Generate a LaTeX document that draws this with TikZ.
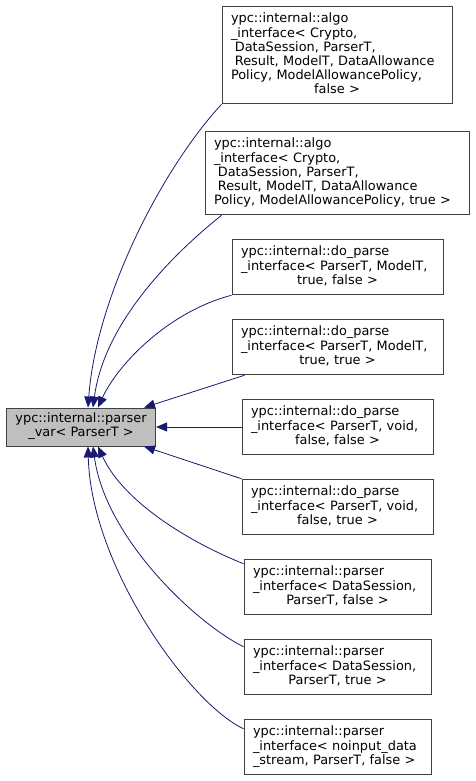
\documentclass[tikz,border=0pt]{standalone}
\usepackage{fontspec}
\setmainfont{DejaVu Sans}
\usetikzlibrary{arrows.meta}
\definecolor{midnight}{RGB}{25,25,112}
\newcommand{\nohyph}{\hyphenpenalty=10000\relax}
\tikzstyle{cls}=[draw=black!75, fill=white, line width=0.9pt, align=left,
	inner xsep=9pt, inner ysep=6.3pt, font=\fontsize{12.9}{14}\selectfont,
	execute at begin node=\nohyph\strut, execute at end node=\strut]
\tikzstyle{base}=[cls, fill=black!25, align=center, inner ysep=5pt]
\tikzstyle{line}=[draw, color=midnight, line width=0.8pt,
	-{Triangle[length=11pt,width=9pt]}]
\newcommand{\clsNode}[3]{node (c#1) [cls, text width=#2]
	{#3}}
\newcommand{\lastline}[1]{\hspace*{\fill}#1\hspace*{\fill}}
\begin{document}
\begin{tikzpicture}[x=1pt,y=-1pt]
	\useasboundingbox (0,0) rectangle (475,781);

	\path (81,427) node (base) [base] {ypc::internal::parser\\\_var< ParserT >};
	\path (base)+(256.5,0) \clsNode{5}{173pt}{ypc::internal::do\_parse\\\_interface< ParserT, void,\\\lastline{false, false >}};
	\path (c5)+(0,-80) \clsNode{4}{193pt}{ypc::internal::do\_parse\\\_interface< ParserT, ModelT,\\\lastline{true, true >}};
	\path (c4)+(0,-80) \clsNode{3}{193pt}{ypc::internal::do\_parse\\\_interface< ParserT, ModelT,\\\lastline{true, false >}};
	\path (c3)+(-0.5,-94) \clsNode{2}{246pt}{ypc::internal::algo\\\_interface< Crypto,\\\hspace*{0.3em}DataSession, ParserT,\\\hspace*{0.3em}Result, ModelT, DataAllowance\\Policy, ModelAllowancePolicy, true >};
	\path (c2)+(0,-118) \clsNode{1}{212pt}{ypc::internal::algo\\\_interface< Crypto,\\\hspace*{0.3em}DataSession, ParserT,\\\hspace*{0.3em}Result, ModelT, DataAllowance\\Policy, ModelAllowancePolicy,\\\lastline{false >}};
	\path (c5)+(0,80) \clsNode{6}{173pt}{ypc::internal::do\_parse\\\_interface< ParserT, void,\\\lastline{false, true >}};
	\path (c6)+(0,80) \clsNode{7}{169pt}{ypc::internal::parser\\\_interface< DataSession,\\\lastline{ParserT, false >}};
	\path (c7)+(0,80) \clsNode{8}{169pt}{ypc::internal::parser\\\_interface< DataSession,\\\lastline{ParserT, true >}};
	\path (c8)+(0,80) \clsNode{9}{169pt}{ypc::internal::parser\\\_interface< noinput\_data\\\_stream, ParserT, false >};

	% Inheritance arrows
	\path [line] (c1.south west) .. controls +(-60,65) and +(8,-110) .. ([xshift=7pt]base.north);
	\path [line] ([xshift=17pt]c2.south west) .. controls +(-40,32) and +(12,-90) .. ([xshift=12pt]base.north);
	\path [line] (c3.south west) .. controls +(-62,16) and +(20,-44) .. ([xshift=17pt]base.north);
	\path [line] ([xshift=13pt]c4.south west) -- ([xshift=-12pt]base.north east);
	\path [line] (c5.west) -- (base.east);
	\path [line] (c6.north west) -- ([xshift=-12pt]base.south east);
	\path [line] ([yshift=-5pt]c7.north west) .. controls +(-55,-22) and +(25,55) .. ([xshift=17pt]base.south);
	\path [line] ([yshift=-8pt]c8.north west) .. controls +(-50,-25) and +(12,90) .. ([xshift=12pt]base.south);
	\path [line] ([yshift=-10pt]c9.north west) .. controls +(-54,-25) and +(3,120) .. ([xshift=7pt]base.south);

\end{tikzpicture}
\end{document}
